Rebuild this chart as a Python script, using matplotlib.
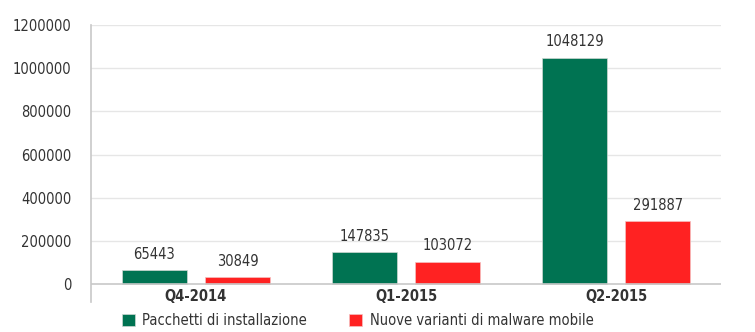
import matplotlib
matplotlib.use("Agg")
import matplotlib.pyplot as plt
import numpy as np

plt.rcParams['font.family'] = ['DejaVu Sans']
plt.rcParams['font.stretch'] = 'condensed'

categories = ['Q4-2014', 'Q1-2015', 'Q2-2015']
pacchetti = [65443, 147835, 1048129]
varianti = [30849, 103072, 291887]
series_labels = ['Pacchetti di installazione', 'Nuove varianti di malware mobile']
yticks = [0, 200000, 400000, 600000, 800000, 1000000, 1200000]

green = '#007352'
red = '#ff2222'
text_col = '#333333'

fig = plt.figure(figsize=(7.55, 3.32), dpi=100)
ax = fig.add_axes([0.1205, 0.0904, 0.8345, 0.8343])

x = np.arange(len(categories))
w = 0.31
off = 0.198
b1 = ax.bar(x - off, pacchetti, w, color=green, edgecolor='#cfd8d3', linewidth=0.5,
            label=series_labels[0], zorder=3)
b2 = ax.bar(x + off, varianti, w, color=red, edgecolor='#f5c0c0', linewidth=0.5,
            label=series_labels[1], zorder=3)

for bars, vals in ((b1, pacchetti), (b2, varianti)):
    for r, v in zip(bars, vals):
        ax.annotate(str(v), (r.get_x() + r.get_width() / 2, v), xytext=(0, 6),
                    textcoords='offset points', ha='center', va='bottom',
                    fontsize=10.5, color=text_col)

ax.set_xlim(-0.5, 2.5)
ax.set_ylim(-83000, 1200000)
ax.set_yticks(yticks)
ax.set_yticklabels([str(t) for t in yticks], fontsize=10.5, color=text_col)
ax.tick_params(axis='y', length=0, pad=14)
ax.set_xticks([])
for t in yticks[1:]:
    ax.axhline(t, color='#e6e6e6', linewidth=1, zorder=1)
ax.axhline(0, color='#c8c8c8', linewidth=1.2, zorder=4)

for s in ['top', 'right', 'bottom']:
    ax.spines[s].set_visible(False)
ax.spines['left'].set_color('#c8c8c8')
ax.spines['left'].set_linewidth(1.2)

for xi, c in zip(x, categories):
    ax.text(xi, -25000, c, ha='center', va='top', fontsize=10.5, fontweight='bold',
            color=text_col)

fig.legend(handles=[b1, b2], labels=series_labels, loc='center left',
           bbox_to_anchor=(0.161, 0.035), ncol=2, frameon=False, fontsize=10.5,
           handlelength=0.9, handleheight=0.9, handletextpad=0.5,
           columnspacing=2.9, labelcolor=text_col, borderaxespad=0, borderpad=0)

fig.savefig('out.png', dpi=100)
